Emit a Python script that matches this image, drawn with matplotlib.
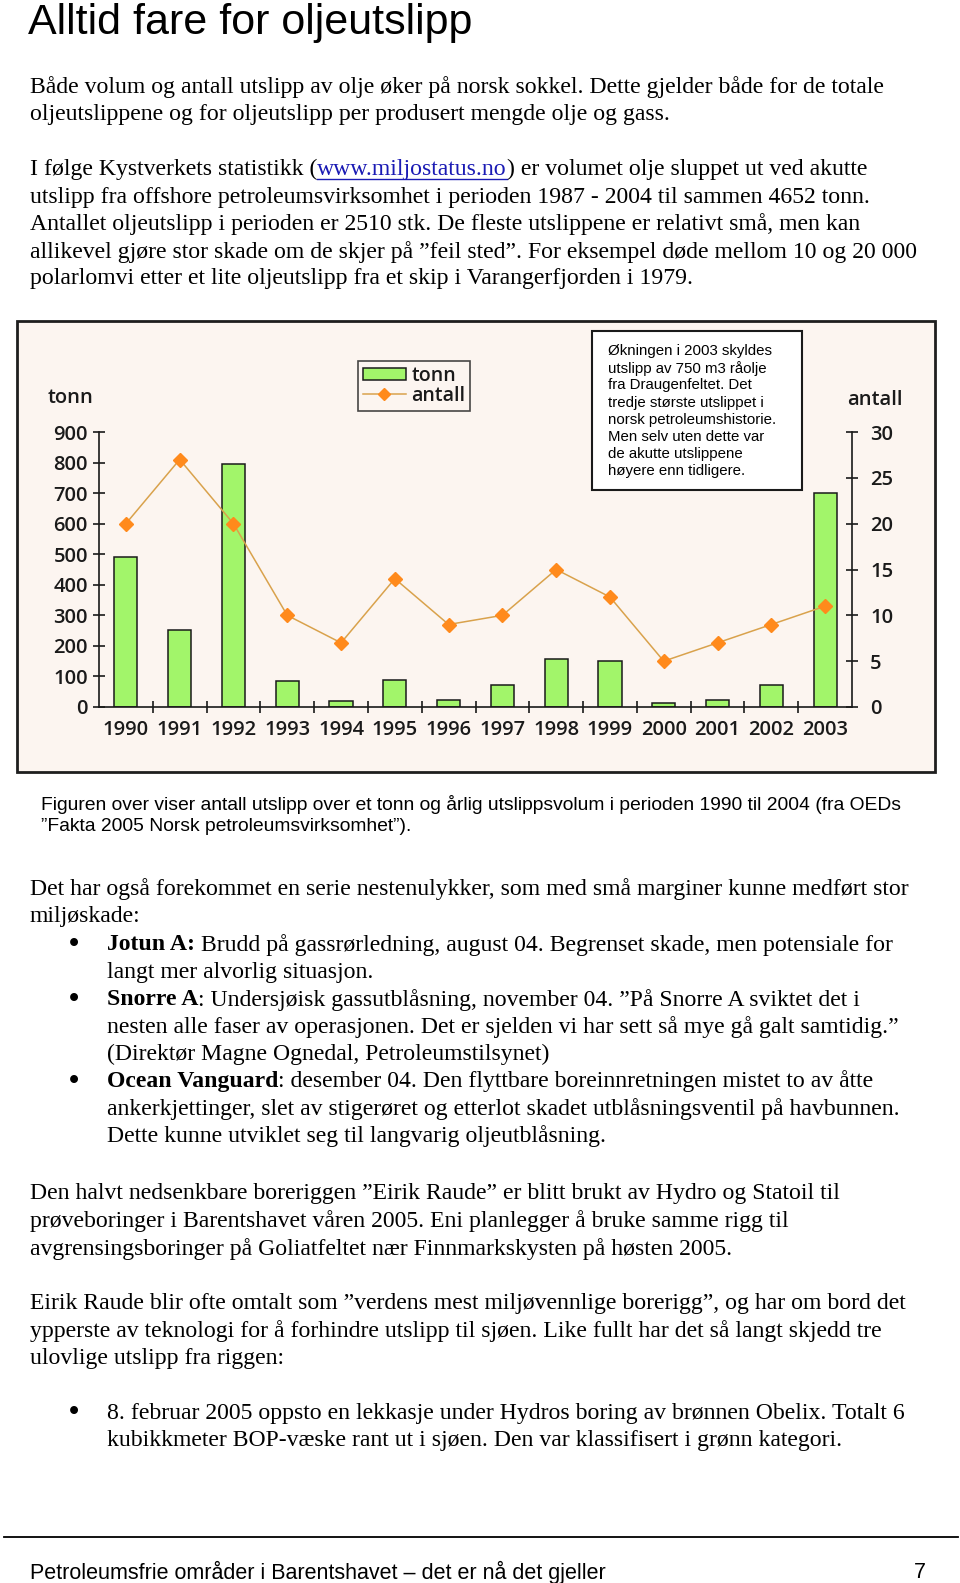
import matplotlib
matplotlib.use("Agg")
import matplotlib.pyplot as plt
from matplotlib.patches import Rectangle, Patch
from matplotlib.lines import Line2D

# chart data
years = ["1990", "1991", "1992", "1993", "1994", "1995", "1996",
         "1997", "1998", "1999", "2000", "2001", "2002", "2003"]
tonn = [490, 252, 795, 85, 20, 88, 24, 73, 156, 149, 13, 24, 73, 701]
antall = [20, 27, 20, 10, 7, 14, 9, 10, 15, 12, 5, 7, 9, 11]
tonn_ticks = [0, 100, 200, 300, 400, 500, 600, 700, 800, 900]
antall_ticks = [0, 5, 10, 15, 20, 25, 30]

note_lines = ["Økningen i 2003 skyldes", "utslipp av 750 m3 råolje",
              "fra Draugenfeltet. Det", "tredje største utslippet i",
              "norsk petroleumshistorie.", "Men selv uten dette var",
              "de akutte utslippene", "høyere enn tidligere."]

# page text
title = "Alltid fare for oljeutslipp"
para1 = ["Både volum og antall utslipp av olje øker på norsk sokkel. Dette gjelder både for de totale",
         "oljeutslippene og for oljeutslipp per produsert mengde olje og gass."]
para2_first = [("I følge Kystverkets statistikk (", "n"), ("www.miljostatus.no", "link"),
               (") er volumet olje sluppet ut ved akutte", "n")]
para2 = ["utslipp fra offshore petroleumsvirksomhet i perioden 1987 - 2004 til sammen 4652 tonn.",
         "Antallet oljeutslipp i perioden er 2510 stk. De fleste utslippene er relativt små, men kan",
         "allikevel gjøre stor skade om de skjer på \u201dfeil sted\u201d. For eksempel døde mellom 10 og 20 000",
         "polarlomvi etter et lite oljeutslipp fra et skip i Varangerfjorden i 1979."]
caption = ["Figuren over viser antall utslipp over et tonn og årlig utslippsvolum i perioden 1990 til 2004 (fra OEDs",
           "\u201dFakta 2005 Norsk petroleumsvirksomhet\u201d)."]
para3 = ["Det har også forekommet en serie nestenulykker, som med små marginer kunne medført stor",
         "miljøskade:"]
bullets1 = [
    [[("Jotun A:", "b"), (" Brudd på gassrørledning, august 04. Begrenset skade, men potensiale for", "n")],
     [("langt mer alvorlig situasjon.", "n")]],
    [[("Snorre A", "b"), (": Undersjøisk gassutblåsning, november 04. \u201dPå Snorre A sviktet det i", "n")],
     [("nesten alle faser av operasjonen. Det er sjelden vi har sett så mye gå galt samtidig.\u201d", "n")],
     [("(Direktør Magne Ognedal, Petroleumstilsynet)", "n")]],
    [[("Ocean Vanguard", "b"), (": desember 04. Den flyttbare boreinnretningen mistet to av åtte", "n")],
     [("ankerkjettinger, slet av stigerøret og etterlot skadet utblåsningsventil på havbunnen.", "n")],
     [("Dette kunne utviklet seg til langvarig oljeutblåsning.", "n")]],
]
para4 = ["Den halvt nedsenkbare boreriggen \u201dEirik Raude\u201d er blitt brukt av Hydro og Statoil til",
         "prøveboringer i Barentshavet våren 2005. Eni planlegger å bruke samme rigg til",
         "avgrensingsboringer på Goliatfeltet nær Finnmarkskysten på høsten 2005."]
para5 = ["Eirik Raude blir ofte omtalt som \u201dverdens mest miljøvennlige borerigg\u201d, og har om bord det",
         "ypperste av teknologi for å forhindre utslipp til sjøen. Like fullt har det så langt skjedd tre",
         "ulovlige utslipp fra riggen:"]
bullets2 = [[[("8. februar 2005 oppsto en lekkasje under Hydros boring av brønnen Obelix. Totalt 6", "n")],
             [("kubikkmeter BOP-væske rant ut i sjøen. Den var klassifisert i grønn kategori.", "n")]]]
footer = "Petroleumsfrie områder i Barentshavet \u2013 det er nå det gjeller"
page_no = "7"

W, H = 960, 1583
SERIF = "Liberation Serif"
SANS = "Liberation Sans"
CHART = "Open Sans"
BODY = 17.1
DY = 2

fig = plt.figure(figsize=(W / 100, H / 100), dpi=100)
renderer = fig.canvas.get_renderer()


def fx(x):
    return x / W


def fy(y):
    return 1 - y / H


def text_width(s, **kw):
    t = fig.text(0, 0, s + "|", **kw)
    w = t.get_window_extent(renderer).width
    t.remove()
    t = fig.text(0, 0, "|", **kw)
    w -= t.get_window_extent(renderer).width
    t.remove()
    return w


def draw_runs(x, y, runs, size=BODY, family=SERIF):
    for s, style in runs:
        kw = dict(fontsize=size, family=family, va="center", ha="left")
        if style == "b":
            kw["fontweight"] = "bold"
        if style == "link":
            kw["color"] = "#1a1ab4"
        fig.text(fx(x), fy(y + DY), s, **kw)
        w = text_width(s, **kw)
        if style == "link":
            fig.add_artist(Line2D([fx(x), fx(x + w)], [fy(y + 11), fy(y + 11)],
                                  color="#1a1ab4", lw=1))
        x += w


def draw_lines(x, y0, lines, step=27.3, size=BODY, family=SERIF, dy=DY):
    for i, s in enumerate(lines):
        fig.text(fx(x), fy(y0 + dy + i * step), s, fontsize=size, family=family,
                 va="center", ha="left")


def draw_bullets(items, y0, step=27.3):
    y = y0
    for item in items:
        fig.text(fx(74), fy(y + DY), "\u2022", fontsize=BODY + 4, family=SERIF,
                 fontweight="bold", va="center", ha="center")
        for runs in item:
            draw_runs(107, y, runs)
            y += step


# page text
fig.text(fx(28), fy(23), title, fontsize=31, family=SANS, va="center", ha="left")
draw_lines(30, 85, para1)
draw_runs(30, 167.5, para2_first)
draw_lines(30, 195, para2)
draw_lines(41, 803.5, caption, step=22.3, size=13.9, family=SANS, dy=1)
draw_lines(30, 887, para3)
draw_bullets(bullets1, 943)
draw_lines(30, 1192, para4)
draw_lines(30, 1302, para5)
draw_bullets(bullets2, 1411)
fig.add_artist(Line2D([fx(4), fx(958)], [fy(1537), fy(1537)], color="black", lw=1.3))
fig.text(fx(30), fy(1572), footer, fontsize=15.5, family=SANS, va="center", ha="left")
fig.text(fx(920), fy(1572), page_no, fontsize=15.5, family=SANS, va="center", ha="center")

# chart frame
fig.add_artist(Rectangle((fx(17), fy(772)), fx(935) - fx(17), fy(321) - fy(772),
                         facecolor="#fcf5f0", edgecolor="#1e1e1e", lw=2, zorder=-1))

ax = fig.add_axes([fx(99), fy(707), fx(852) - fx(99), fy(432) - fy(707)])
ax.set_facecolor("none")
pos = list(range(len(years)))
bar_color = "#a2f56a"
line_color = "#d9a24c"
marker_color = "#ff8a1c"
ink = "#1a1a1a"
TICK = 14.5

ax.bar(pos, tonn, width=0.43, color=bar_color, edgecolor=ink, linewidth=1.1, zorder=2)
ax.set_xlim(-0.5, len(years) - 0.5)
ax.set_ylim(0, 900)
ax.set_yticks(tonn_ticks)
ax.set_xticks(pos)
ax.set_xticklabels(years)
ax.set_xticks([p + 0.5 for p in pos[:-1]], minor=True)
for side in ("top", "right"):
    ax.spines[side].set_visible(False)
for side in ("left", "bottom"):
    ax.spines[side].set_color(ink)
    ax.spines[side].set_linewidth(1.2)
ax.tick_params(axis="y", direction="inout", length=8, width=1.2, color=ink, pad=4,
               labelsize=TICK, labelcolor=ink)
ax.tick_params(axis="x", which="major", length=0, pad=9.5, labelsize=TICK, labelcolor=ink)
ax.tick_params(axis="x", which="minor", direction="inout", length=8, width=1.2, color=ink)
for lab in ax.get_xticklabels() + ax.get_yticklabels():
    lab.set_family(CHART)
    lab.set_fontweight("semibold")

ax2 = ax.twinx()
ax2.plot(pos, antall, color=line_color, lw=1.1, marker="D", markersize=7.5,
         markerfacecolor=marker_color, markeredgecolor=marker_color, zorder=3)
ax2.set_ylim(0, 30)
ax2.set_yticks(antall_ticks)
for side in ("top", "left", "bottom"):
    ax2.spines[side].set_visible(False)
ax2.spines["right"].set_color(ink)
ax2.spines["right"].set_linewidth(1.2)
ax2.tick_params(axis="y", direction="inout", length=8, width=1.2, color=ink, pad=9,
                labelsize=TICK, labelcolor=ink)
for lab in ax2.get_yticklabels():
    lab.set_family(CHART)
    lab.set_fontweight("semibold")

fig.text(fx(70.5), fy(398), "tonn", fontsize=TICK, family=CHART, fontweight="semibold",
         color=ink, ha="center", va="center")
fig.text(fx(874.5), fy(400), "antall", fontsize=TICK, family=CHART, fontweight="semibold",
         color=ink, ha="center", va="center")

handles = [Patch(facecolor=bar_color, edgecolor=ink, linewidth=1.1),
           Line2D([], [], color=line_color, lw=1.1, marker="D", markersize=6,
                  markerfacecolor=marker_color, markeredgecolor=marker_color)]
leg = fig.legend(handles, ["tonn", "antall"], loc="upper left",
                 bbox_to_anchor=(fx(358), fy(361)), frameon=True, fancybox=False,
                 prop={"family": CHART, "weight": "semibold", "size": 14},
                 handlelength=2.2, handleheight=0.55, handletextpad=0.3,
                 borderpad=0.25, labelspacing=0.0, borderaxespad=0)
leg.get_frame().set_edgecolor(ink)
leg.get_frame().set_linewidth(1.2)
leg.get_frame().set_facecolor("#fcf5f0")
for t in leg.get_texts():
    t.set_color(ink)

# note box
fig.add_artist(Rectangle((fx(592), fy(490)), fx(802) - fx(592), fy(331) - fy(490),
                         facecolor="white", edgecolor=ink, lw=1.5, zorder=3))
for i, s in enumerate(note_lines):
    fig.text(fx(608), fy(351 + i * 17.2), s, fontsize=10.8, family=SANS,
             va="center", ha="left", zorder=4)

fig.savefig("out.png", dpi=100)
